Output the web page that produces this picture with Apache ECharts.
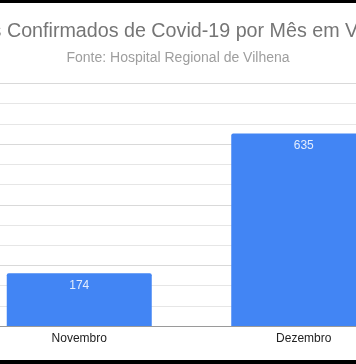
<!DOCTYPE html>
<html>
<head>
<meta charset="utf-8">
<script src="https://cdn.jsdelivr.net/npm/echarts@6/dist/echarts.min.js"></script>
<style>
html,body{margin:0;padding:0;background:#fff;}
#frame{position:relative;width:356px;height:364px;overflow:hidden;}
#chart{position:absolute;left:-60px;top:0;width:476px;height:364px;}
</style>
</head>
<body>
<div id="frame"><div id="chart"></div></div>
<script>
const titleText = 'Casos Confirmados de Covid-19 por Mês em Vilhena';
const subtitleText = 'Fonte: Hospital Regional de Vilhena';
const categories = ['Novembro', 'Dezembro'];
const casos = [174, 635];
const yMin = 0, yMax = 800, yInterval = 200;

const chart = echarts.init(document.getElementById('chart'), null, {renderer: 'canvas'});
const font = '"Liberation Sans", Arial, sans-serif';
chart.setOption({
  backgroundColor: '#ffffff',
  animation: false,
  title: [
    {text: titleText, left: 'center', top: 17,
     textStyle: {fontFamily: font, fontSize: 19.7, fontWeight: 'normal', color: '#757575', lineHeight: 20}},
    {text: subtitleText, left: 'center', top: 46,
     textStyle: {fontFamily: font, fontSize: 14, fontWeight: 'normal', color: '#9e9e9e', lineHeight: 14}}
  ],
  grid: {left: 27, width: 449, top: 83.5, bottom: 38, containLabel: false},
  xAxis: {
    type: 'category', data: categories,
    axisLine: {lineStyle: {color: '#9a9a9a', width: 1}},
    axisTick: {show: false},
    axisLabel: {color: '#222', fontFamily: font, fontSize: 12, margin: 7}
  },
  yAxis: {
    type: 'value', min: yMin, max: yMax, interval: yInterval,
    axisLabel: {show: false}, axisLine: {show: false}, axisTick: {show: false},
    splitLine: {lineStyle: {color: '#d9d9d9', width: 1}},
    minorTick: {show: false, splitNumber: 3},
    minorSplitLine: {show: true, lineStyle: {color: '#e6e6e6', width: 1}}
  },
  series: [{
    type: 'bar', data: casos, barWidth: 145,
    itemStyle: {color: '#4285f4', borderRadius: [2, 2, 0, 0]},
    label: {show: true, position: 'insideTop', distance: 6,
      color: 'rgba(255,255,255,0.85)', fontFamily: font, fontSize: 12}
  }],
  graphic: [
    {type: 'rect', shape: {x: 0, y: 0, width: 476, height: 3}, style: {fill: '#000'}, z: 100},
    {type: 'rect', shape: {x: 0, y: 360, width: 476, height: 4}, style: {fill: '#000'}, z: 100}
  ]
});
</script>
</body>
</html>
